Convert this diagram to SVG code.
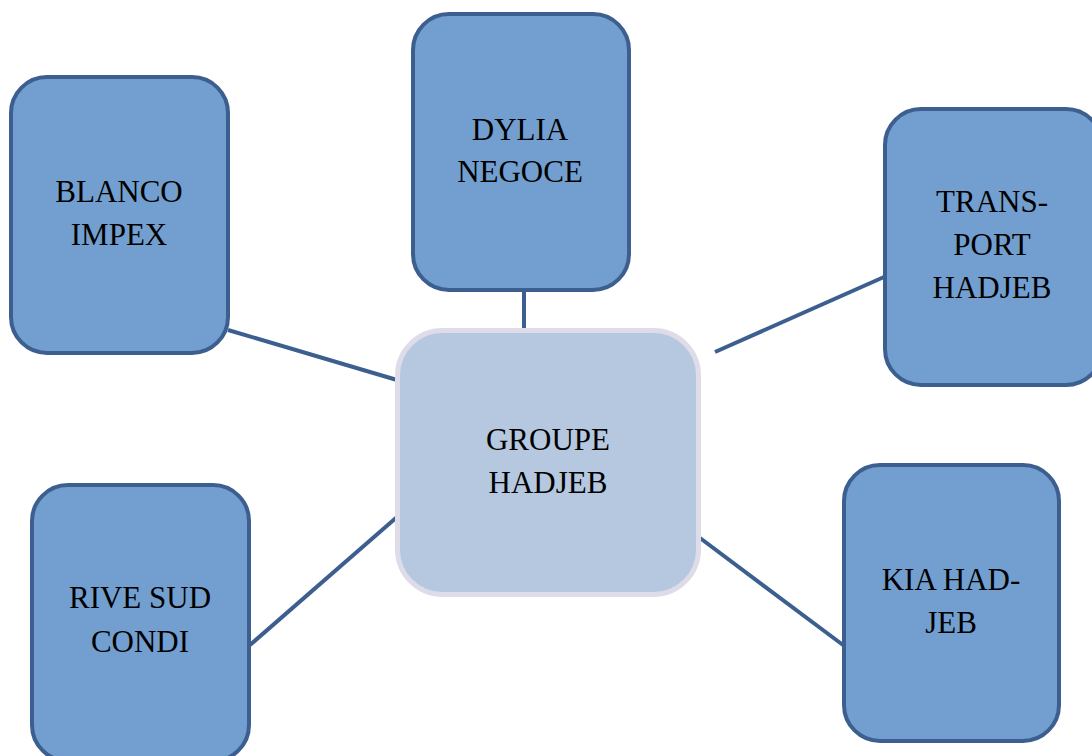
<svg xmlns="http://www.w3.org/2000/svg" width="1092" height="756" viewBox="0 0 1092 756">
<style>
.n{fill:#729fcf;stroke:#3c5f8f;stroke-width:4}
.c{fill:#b5c8df;stroke:#dedce8;stroke-width:5}
.t{font-family:"Liberation Serif","Times New Roman",serif;font-size:31px;fill:#000;text-anchor:middle}
.l{stroke:#3c5f8f;stroke-width:4;fill:none}
</style>
<rect width="1092" height="756" fill="#fff"/>
<g id="connectors">
<line class="l" x1="228" y1="330" x2="397" y2="380"/>
<line class="l" x1="524" y1="291" x2="524" y2="328"/>
<line class="l" x1="715" y1="352" x2="884" y2="277"/>
<line class="l" x1="250" y1="645" x2="397" y2="517"/>
<line class="l" x1="700" y1="538" x2="843" y2="645"/>
</g>
<g id="groupe-hadjeb">
<rect class="c" x="397.5" y="330.5" width="301" height="264" rx="45"/>
<text class="t" x="548" y="450">GROUPE</text>
<text class="t" x="548" y="493">HADJEB</text>
</g>
<g id="blanco-impex">
<rect class="n" x="11" y="77" width="217" height="276" rx="36"/>
<text class="t" x="119" y="202">BLANCO</text>
<text class="t" x="119" y="245">IMPEX</text>
</g>
<g id="dylia-negoce">
<rect class="n" x="413" y="14" width="216" height="276" rx="36"/>
<text class="t" x="520" y="140">DYLIA</text>
<text class="t" x="520" y="182">NEGOCE</text>
</g>
<g id="transport-hadjeb">
<rect class="n" x="885" y="109" width="217" height="276" rx="36"/>
<text class="t" x="992" y="212">TRANS-</text>
<text class="t" x="992" y="255">PORT</text>
<text class="t" x="992" y="298">HADJEB</text>
</g>
<g id="rive-sud-condi">
<rect class="n" x="32" y="485" width="217" height="276" rx="36"/>
<text class="t" x="140" y="608">RIVE SUD</text>
<text class="t" x="140" y="652">CONDI</text>
</g>
<g id="kia-hadjeb">
<rect class="n" x="844" y="465" width="215" height="276" rx="36"/>
<text class="t" x="951" y="590">KIA HAD-</text>
<text class="t" x="951" y="633">JEB</text>
</g>
</svg>
